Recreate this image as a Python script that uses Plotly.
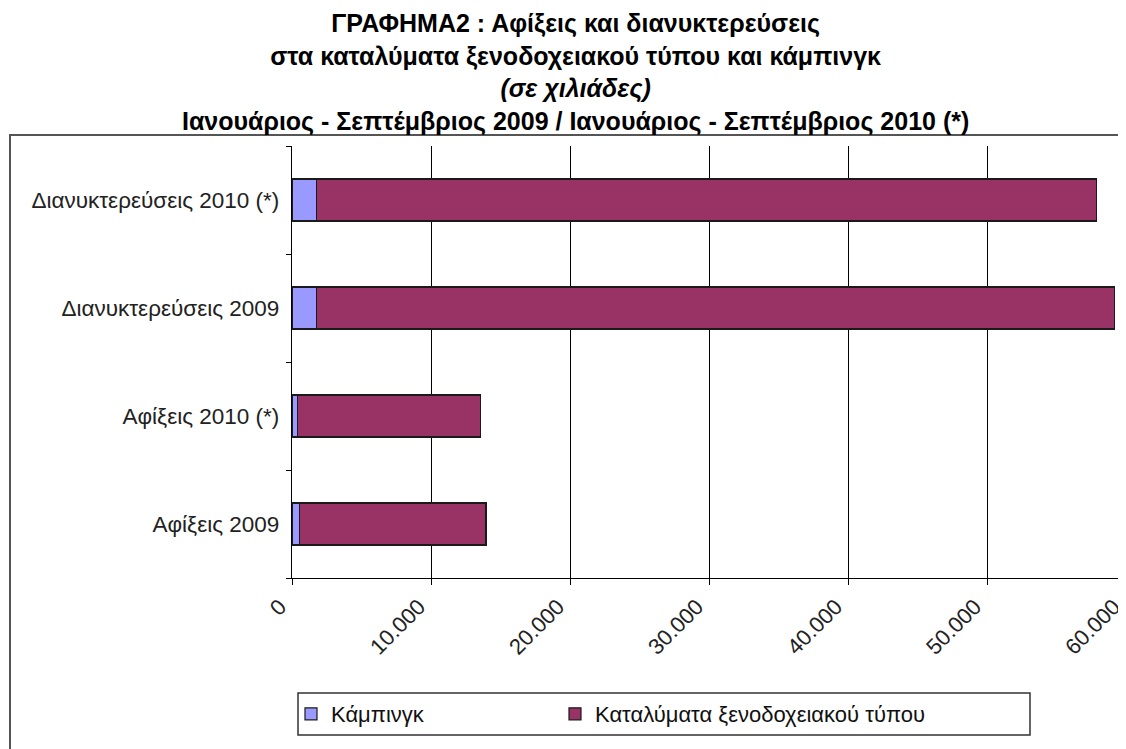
import plotly.graph_objects as go

categories = ["Αφίξεις 2009", "Αφίξεις 2010 (*)", "Διανυκτερεύσεις 2009", "Διανυκτερεύσεις 2010 (*)"]
camping = [520, 380, 1780, 1760]
hotels = [13440, 13170, 57420, 56090]
series_names = ["Κάμπινγκ", "Καταλύματα ξενοδοχειακού τύπου"]
colors = ["#9999FF", "#993366"]
x_ticks = [0, 10000, 20000, 30000, 40000, 50000, 60000]

FONT = "Liberation Sans, Arial, sans-serif"
OFF = 8  # default page body margin
W, H = 1126 - OFF, 749 - OFF
L, R = 292 - OFF, 0
T = 146 - OFF
B = H - (578 - OFF)
pw = W - L - R
ph = H - T - B


def px_x(p):
    return (p - OFF - L) / pw


def px_y(p):
    return (H - B - (p - OFF)) / ph


fig = go.Figure()
for i, (name, vals, col) in enumerate(zip(series_names, [camping, hotels], colors)):
    fig.add_trace(go.Bar(
        y=categories, x=vals, name=name, orientation="h",
        marker=dict(color=col, line=dict(color="#1a1a1a", width=1.2)),
        legend="legend" if i == 0 else "legend2",
        showlegend=True,
    ))

leg_common = dict(
    orientation="h", yanchor="middle", y=px_y(714), xanchor="left",
    xref="paper", yref="paper", bgcolor="rgba(0,0,0,0)", borderwidth=0,
    font=dict(size=22, color="#111", family=FONT),
    visible=True,
)

fig.update_layout(
    width=W, height=H,
    margin=dict(l=L, r=R, t=T, b=B, pad=0, autoexpand=False),
    showlegend=True,
    barmode="stack", bargap=0.61,
    paper_bgcolor="white", plot_bgcolor="white",
    separators=",.",
    font=dict(family=FONT, color="#1a1a1a", size=18),
    xaxis=dict(
        range=[0, 60000], tickvals=x_ticks, tickformat=",.0f",
        tickangle=-45, ticks="outside", ticklen=6, tickcolor="#000",
        showgrid=True, gridcolor="#000", gridwidth=1.3,
        showline=True, linecolor="#000", linewidth=1.3,
        zeroline=False, tickfont=dict(size=22, color="#222"),
        ticklabeloverflow="allow", fixedrange=True, automargin=False,
        ticklabelshift=-12,
    ),
    yaxis=dict(
        categoryorder="array", categoryarray=categories,
        ticks="outside", ticklen=5, tickcolor="#000",
        tickson="boundaries",
        showline=True, linecolor="#000", linewidth=1.3,
        showgrid=False, zeroline=False,
        tickfont=dict(size=22.5, color="#222"),
        ticklabelstandoff=7, automargin=False,
    ),
    legend=dict(x=px_x(291), **leg_common),
    legend2=dict(x=px_x(555), **leg_common),
    annotations=[dict(
        text=("<b>ΓΡΑΦΗΜΑ2 : Αφίξεις και διανυκτερεύσεις<br>"
              "στα καταλύματα ξενοδοχειακού τύπου και κάμπινγκ<br>"
              "<i>(σε χιλιάδες)</i><br>"
              "Ιανουάριος - Σεπτέμβριος 2009 / Ιανουάριος - Σεπτέμβριος 2010 (*)</b>"),
        xref="paper", yref="paper", x=px_x(575), y=px_y(7),
        xanchor="center", yanchor="top", showarrow=False,
        font=dict(family=FONT, size=25, color="#000000"),
    )],
    shapes=[
        dict(type="rect", xref="paper", yref="paper",
             x0=px_x(10), x1=px_x(1150), y0=px_y(780), y1=px_y(135),
             line=dict(color="#555", width=2), fillcolor="rgba(0,0,0,0)", layer="below"),
        dict(type="rect", xref="paper", yref="paper",
             x0=px_x(298), x1=px_x(1030), y0=px_y(735), y1=px_y(693),
             line=dict(color="#333", width=1.5), fillcolor="rgba(0,0,0,0)", layer="below"),
    ],
)

fig.write_html("out.html")
